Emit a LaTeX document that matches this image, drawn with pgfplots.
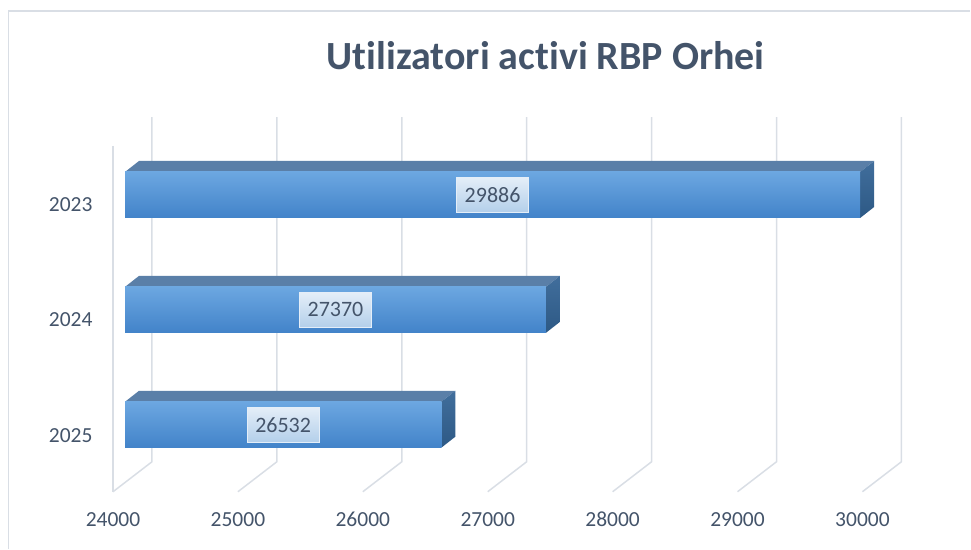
\documentclass[border=0pt]{standalone}
\usepackage{pgfplots}
\pgfplotsset{compat=1.18}
\usepackage{fontspec}
\setmainfont{Carlito}[Ligatures=NoCommon]
\definecolor{txt}{HTML}{44546A}
\definecolor{grid}{HTML}{D9DEE5}
\definecolor{frontT}{HTML}{6CA7E1}
\definecolor{frontM}{HTML}{5198DB}
\definecolor{frontB}{HTML}{4283C9}
\definecolor{topf}{HTML}{5A7FA8}
\definecolor{sideT}{HTML}{416E9C}
\definecolor{sideB}{HTML}{2D5985}
\definecolor{lblT}{HTML}{E4EEF8}
\definecolor{lblB}{HTML}{B3CFEA}
\begin{document}
\begin{tikzpicture}[x=1pt,y=1pt]
\begin{axis}[
  scale only axis, width=971pt, height=549pt,
  xmin=23000, xmax=30768, ymin=0, ymax=549, y dir=reverse,
  axis line style={draw=none}, clip=false,
  major tick length=0pt,
  scaled x ticks=false, scaled y ticks=false,
  xtick={23904,24904,25904,26904,27904,28904,29904},
  xticklabels={24000,25000,26000,27000,28000,29000,30000},
  ytick={205,320,436},
  yticklabels={2023,2024,2025},
  xticklabel style={anchor=center, yshift=29pt, font=\fontsize{21.5}{25}\selectfont, text=txt},
  yticklabel style={anchor=east, xshift=96pt, font=\fontsize{21.5}{25}\selectfont, text=txt},
  xmajorgrids=false, ymajorgrids=false,
]
% bounding box
\addplot[draw=none] coordinates {(23000,0) (30768,549)};
% frame
\addplot[draw=grid, line width=1.3pt] coordinates {(23068,549) (23068,11) (30768,11)};
% left side edge
\addplot[draw=grid, line width=1.5pt] coordinates {(23904,146) (23904,492)};
% gridlines (back wall + floor)
\addplot[draw=grid, line width=1.5pt] coordinates {(24216,117) (24216,462) (23904,492)};
\addplot[draw=grid, line width=1.5pt] coordinates {(25216,117) (25216,462) (24904,492)};
\addplot[draw=grid, line width=1.5pt] coordinates {(26216,117) (26216,462) (25904,492)};
\addplot[draw=grid, line width=1.5pt] coordinates {(27216,117) (27216,462) (26904,492)};
\addplot[draw=grid, line width=1.5pt] coordinates {(28216,117) (28216,462) (27904,492)};
\addplot[draw=grid, line width=1.5pt] coordinates {(29216,117) (29216,462) (28904,492)};
\addplot[draw=grid, line width=1.5pt] coordinates {(30216,117) (30216,462) (29904,492)};
% ---- bar 2023 : 29886
\addplot[draw=none, fill=topf] coordinates {(24000,172) (29886,172) (29998,161) (24112,161)} -- cycle;
\addplot[draw=none, top color=sideT, bottom color=sideB] coordinates {(29886,172) (29998,161) (29998,207) (29886,218)} -- cycle;
\addplot[draw=none, top color=frontT, middle color=frontM, bottom color=frontB] coordinates {(24000,172) (29886,172) (29886,218) (24000,218)} -- cycle;
% ---- bar 2024 : 27370
\addplot[draw=none, fill=topf] coordinates {(24000,287) (27370,287) (27482,276) (24112,276)} -- cycle;
\addplot[draw=none, top color=sideT, bottom color=sideB] coordinates {(27370,287) (27482,276) (27482,322) (27370,333)} -- cycle;
\addplot[draw=none, top color=frontT, middle color=frontM, bottom color=frontB] coordinates {(24000,287) (27370,287) (27370,333) (24000,333)} -- cycle;
% ---- bar 2025 : 26532
\addplot[draw=none, fill=topf] coordinates {(24000,402) (26532,402) (26644,391) (24112,391)} -- cycle;
\addplot[draw=none, top color=sideT, bottom color=sideB] coordinates {(26532,402) (26644,391) (26644,437) (26532,448)} -- cycle;
\addplot[draw=none, top color=frontT, middle color=frontM, bottom color=frontB] coordinates {(24000,402) (26532,402) (26532,448) (24000,448)} -- cycle;
% data labels
\node[top color=lblT, bottom color=lblB, draw=lblT, line width=0.6pt, minimum width=72pt, minimum height=35pt, inner sep=0pt, text=txt, font=\fontsize{22}{26}\selectfont] at (axis cs:26943,195) {29886};
\node[top color=lblT, bottom color=lblB, draw=lblT, line width=0.6pt, minimum width=72pt, minimum height=35pt, inner sep=0pt, text=txt, font=\fontsize{22}{26}\selectfont] at (axis cs:25685,310) {27370};
\node[top color=lblT, bottom color=lblB, draw=lblT, line width=0.6pt, minimum width=72pt, minimum height=35pt, inner sep=0pt, text=txt, font=\fontsize{22}{26}\selectfont] at (axis cs:25266,425) {26532};
% title
\node[anchor=base, text=txt, font=\fontsize{40}{48}\selectfont\bfseries] at (axis cs:27368,69) {Utilizatori activi RBP Orhei};
\end{axis}
\end{tikzpicture}
\end{document}
